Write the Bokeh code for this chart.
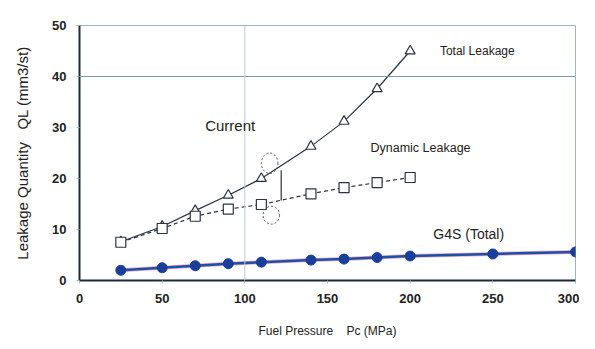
from bokeh.plotting import figure
from bokeh.models import Range1d, Span, Label
from bokeh.embed import file_html
from bokeh.resources import INLINE

# Data
total_x = [25, 50, 70, 90, 110, 140, 160, 180, 200]
total_y = [7.6, 10.6, 13.7, 16.7, 20.0, 26.3, 31.2, 37.6, 45.0]
dyn_x = [25, 50, 70, 90, 110, 140, 160, 180, 200]
dyn_y = [7.5, 10.2, 12.6, 14.0, 14.9, 17.0, 18.2, 19.2, 20.2]
g4s_x = [25, 50, 70, 90, 110, 140, 160, 180, 200, 250, 300]
g4s_y = [2.0, 2.5, 2.9, 3.3, 3.6, 4.0, 4.2, 4.5, 4.8, 5.2, 5.6]
x_ticks = [0, 50, 100, 150, 200, 250, 300]
y_ticks = [0, 10, 20, 30, 40, 50]

FONT = "Liberation Sans"
NB = "\u00a0"

p = figure(width=579, height=345, output_backend="svg", toolbar_location=None,
           x_range=Range1d(0, 300), y_range=Range1d(0, 50),
           min_border_left=79, min_border_right=4, min_border_top=25, min_border_bottom=65)
p.background_fill_color = "white"
p.border_fill_color = "white"
p.outline_line_color = "#9fb4c8"
p.grid.visible = False

p.xaxis.ticker = x_ticks
p.yaxis.ticker = y_ticks
for ax in (p.xaxis, p.yaxis):
    ax.axis_line_color = "#1a2a3a"
    ax.axis_line_width = 2
    ax.major_tick_line_color = "#9fb4c8"
    ax.major_tick_in = 0
    ax.major_tick_out = 3
    ax.minor_tick_line_color = None
    ax.major_label_text_font = FONT
    ax.major_label_text_font_size = "13px"
    ax.major_label_text_font_style = "bold"
    ax.major_label_text_color = "#222222"
    ax.axis_label_text_font = FONT
    ax.axis_label_text_font_style = "normal"
    ax.axis_label_text_color = "#222222"
p.xaxis.axis_label = "Fuel Pressure" + NB * 4 + "Pc (MPa)"
p.yaxis.axis_label = "Leakage Quantity" + NB * 3 + "QL (mm3/st)"
p.xaxis.axis_label_text_font_size = "12px"
p.yaxis.axis_label_text_font_size = "15px"
p.xaxis.major_label_standoff = 10
p.yaxis.major_label_standoff = 10
p.xaxis.axis_label_standoff = 18
p.yaxis.axis_label_standoff = 18

# reference lines
p.add_layout(Span(location=40, dimension="width", line_color="#7f98b0", line_width=1))
p.add_layout(Span(location=100, dimension="height", line_color="#b8c8d8", line_width=1))

# Total leakage
p.line(total_x, total_y, line_color="#2a3440", line_width=1.2)
p.scatter(total_x, total_y, marker="triangle", size=10, fill_color="white",
          line_color="#2a3440", line_width=1.2)

# Dynamic leakage
p.line(dyn_x, dyn_y, line_color="#2a3440", line_width=1.2, line_dash="4 3")
p.scatter(dyn_x, dyn_y, marker="square", size=10, fill_color="white",
          line_color="#2a3440", line_width=1.2)

# G4S total
p.line(g4s_x, g4s_y, line_color="#e07890", line_width=4, alpha=0.6)
p.line(g4s_x, g4s_y, line_color="#1f4fa8", line_width=2.5)
p.scatter(g4s_x, g4s_y, marker="circle", size=10, fill_color="#1a3f9a",
          line_color="#1a3f9a")

# "Current" annotation marks
p.ellipse(x=[115], y=[23.0], width=10, height=4, fill_color=None,
          line_color="#555555", line_dash="2 2", line_width=1)
p.ellipse(x=[116], y=[12.8], width=10, height=3.5, fill_color=None,
          line_color="#555555", line_dash="2 2", line_width=1)
p.segment(x0=[122], y0=[15.7], x1=[122], y1=[21.6], line_color="#333333", line_width=1.2)

labels = [
    ("Current", 76, 30.4, "15px"),
    ("Total Leakage", 218, 45.0, "12px"),
    ("Dynamic Leakage", 176, 25.9, "12.5px"),
    ("G4S (Total)", 214, 9.2, "14px"),
]
for t, x, y, s in labels:
    p.add_layout(Label(x=x, y=y, text=t, text_font=FONT, text_font_size=s,
                       text_color="#222222", text_baseline="middle"))

open("out.html", "w").write(file_html(p, INLINE))
